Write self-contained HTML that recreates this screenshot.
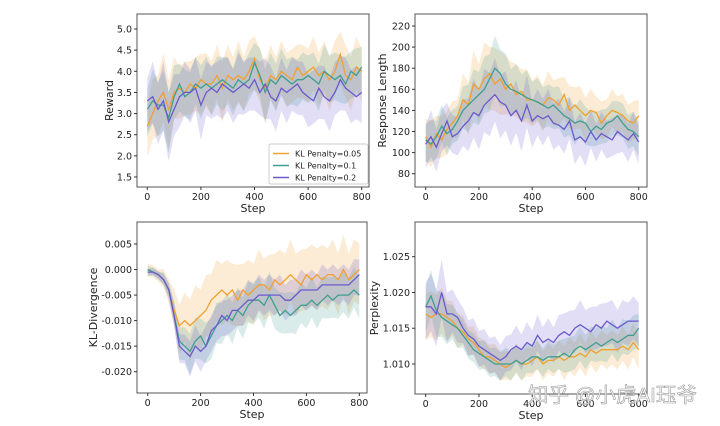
<!DOCTYPE html>
<html><head><meta charset="utf-8"><style>
html,body{margin:0;padding:0;background:#fff;}
svg{display:block;font-family:"DejaVu Sans","Liberation Sans",sans-serif;}
</style></head><body>
<svg id="chart" width="720" height="426" viewBox="0 0 720 426" xmlns="http://www.w3.org/2000/svg"></svg>
<script>
const steps = Array.from({length:41},(_,i)=>i*20);
const seriesNames = ["KL Penalty=0.05","KL Penalty=0.1","KL Penalty=0.2"];
const rewardOrange=[2.7,3.0,3.3,3.5,3.1,3.5,3.6,3.5,3.7,3.6,3.8,3.7,3.7,3.9,3.6,3.9,3.8,3.9,3.8,4.0,4.3,3.8,3.6,3.9,3.8,4.0,3.9,3.8,4.1,3.9,4.0,4.1,3.9,4.0,3.8,4.0,4.4,3.9,3.8,4.1,4.0];
const rewardGreen=[3.1,3.3,3.2,3.2,2.9,3.4,3.7,3.4,3.5,3.7,3.6,3.7,3.6,3.7,3.8,3.7,3.6,3.8,3.7,3.8,4.2,3.9,3.5,3.8,3.7,3.9,3.8,3.7,3.8,3.8,3.9,3.8,3.7,4.0,3.9,3.8,3.9,3.7,4.0,3.9,4.1];
const rewardPurple=[3.3,3.4,3.1,3.3,2.8,3.1,3.4,3.5,3.5,3.6,3.2,3.5,3.6,3.5,3.7,3.6,3.5,3.6,3.7,3.6,3.8,3.5,3.7,3.4,3.3,3.6,3.5,3.6,3.7,3.5,3.4,3.3,3.6,3.4,3.3,3.5,3.8,3.6,3.5,3.4,3.5];
const rewardSpread=[0.7,0.8,0.8,0.9,0.9,0.8,0.7,0.7,0.7,0.7,0.8,0.7,0.7,0.7,0.8,0.7,0.7,0.8,0.7,0.7,0.7,0.7,0.8,0.7,0.7,0.7,0.7,0.7,0.7,0.7,0.7,0.7,0.7,0.7,0.7,0.7,0.7,0.7,0.7,0.7,0.7];
const respOrange=[115,105,118,112,122,128,135,150,145,165,160,170,175,165,170,160,165,155,158,150,150,148,145,152,150,145,155,140,145,140,135,140,138,128,135,140,138,135,130,128,135];
const respGreen=[112,108,115,125,118,122,130,140,145,150,155,160,170,180,175,165,160,158,155,152,150,148,145,142,145,140,135,132,128,130,128,120,125,122,128,130,135,128,122,120,115];
const respPurple=[108,115,105,118,130,115,118,125,130,138,135,145,150,155,148,145,135,140,130,145,130,135,132,135,128,126,122,130,112,115,110,120,112,118,115,112,120,116,112,118,110];
const respSpread=[20,22,20,20,20,18,18,22,25,28,28,30,30,30,30,28,25,25,25,25,22,22,22,22,22,22,20,20,20,20,20,18,18,18,18,18,18,18,18,18,18];
const klOrange=[0,-0.5,-1,-2,-4,-8,-11,-10,-11,-10,-9,-8,-6,-5,-4,-5,-4,-6,-4,-5,-4,-3,-3,-4,-2,-3,-2,-1,-2,-3,-1,-2,-1,-2,-1,-1,-2,0,-2,-1,0];
const klGreen=[0,-0.5,-1,-2,-4,-9,-14,-15,-16,-14,-13,-15,-13,-11,-10,-9,-10,-8,-9,-7,-6,-6,-7,-5,-7,-9,-8,-9,-8,-7,-7,-6,-7,-6,-5,-6,-5,-5,-5,-4,-5];
const klPurple=[-0.5,-0.5,-1,-2,-4,-9,-15,-16,-17,-15,-16,-15,-12,-11,-9,-10,-8,-8,-7,-6,-6,-5,-5,-5,-5,-5,-6,-6,-5,-4,-4,-4,-4,-3,-3,-3,-3,-3,-3,-2,-1];
const klSpread=[1,1,1,1.5,2,3,4,4,5,5,5,5,5,5,5,5,5,5,5,5,5,5,5,5,5,5,5,5,5,5,5,5,5,5,5,5,5,5,5,5,5];
const pplOrange=[17,16.5,17,17,16.5,16,15,14.5,13.5,13,12,11,11,10.5,10,9.5,10,10.5,10,10,10.5,11,10,10.5,10.5,11,10.5,11,11,11.5,11,12,11.5,12,12,12,12,12.5,12,13,12];
const pplGreen=[18,19.5,17.5,16.5,16,15.5,15,14,13,12,11.5,11,10.5,10,10,10,10,10.5,10,10.5,11,11,10.5,11,11,11,11.5,11,12,12.5,12,12.5,13,12.5,13,13.5,13,13.5,14,14,15];
const pplPurple=[18,18,17,20,17,17,16.5,15,14,13.5,12.5,12,11.5,11,10.5,11,12,12.5,12,13,12.5,14,13,13.5,13,14,14.5,14,15,15.5,15,14.5,15.5,15,16,15.5,15,15.5,16,16,16];
const pplSpread=[4,4,4,4,3.5,3,3,2.5,2.5,2.5,2.5,2.5,2.5,2.5,2.5,2.5,2.5,2.5,2.5,2.5,2.5,2.5,2.5,2.5,2.5,2.5,3,3,3,3,3,3,3,3,3,3,3,3,3,3,3];
const xTicks=[0,200,400,600,800];
const rewardTicks=[1.5,2.0,2.5,3.0,3.5,4.0,4.5,5.0];
const respTicks=[80,100,120,140,160,180,200,220];
const klTicks=[-0.020,-0.015,-0.010,-0.005,0.000,0.005];
const pplTicks=[1.010,1.015,1.020,1.025];
const colors=["#f0a030","#3f9f8f","#6a5acd"];
const NS="http://www.w3.org/2000/svg";
const svg=document.getElementById('chart');
function mk(tag,attrs,parent){const e=document.createElementNS(NS,tag);for(const k in attrs)e.setAttribute(k,attrs[k]);(parent||svg).appendChild(e);return e;}

function panel(name,box,xmap,ymap,series,spread,mult,scale,offset,ticks,fmt,ylabel){
  const g=mk('g',{});
  
  
  const X=s=>xmap[0]+(s-0)/800*(xmap[1]-xmap[0]);
  const Y=v=>ymap[0][1]+(v-ymap[0][0])/(ymap[1][0]-ymap[0][0])*(ymap[1][1]-ymap[0][1]);
  const clip='c'+name;
  const cp=mk('clipPath',{id:clip},g);mk('rect',{x:box[0],y:box[1],width:box[2]-box[0],height:box[3]-box[1]},cp);
  series.forEach((vals,si)=>{
    let up='',lo='';
    vals.forEach((v,i)=>{const vv=offset+v*scale;const d=spread[i]*mult[si]*scale*(i%2?1.15:0.85);
      up+=(i?'L':'M')+X(steps[i]).toFixed(1)+','+Y(vv+d).toFixed(1);});
    for(let i=vals.length-1;i>=0;i--){const vv=offset+vals[i]*scale;const d=spread[i]*mult[si]*scale*(i%2?0.85:1.15);lo+='L'+X(steps[i]).toFixed(1)+','+Y(vv-d).toFixed(1);}
    const b=mk('path',{d:up+lo+'Z',fill:colors[si],'fill-opacity':0.2,stroke:'none','clip-path':'url(#'+clip+')'},g);
    
    
  });
  series.forEach((vals,si)=>{
    const d=vals.map((v,i)=>(i?'L':'M')+X(steps[i]).toFixed(1)+','+Y(offset+v*scale).toFixed(1)).join('');
    const l=mk('path',{d:d,fill:'none',stroke:colors[si],'stroke-width':1.3,'clip-path':'url(#'+clip+')'},g);
    
    
  });
  mk('rect',{x:box[0],y:box[1],width:box[2]-box[0],height:box[3]-box[1],fill:'none',stroke:'#555','stroke-width':1},g);
  xTicks.forEach(t=>{const x=X(t);mk('line',{x1:x,x2:x,y1:box[3],y2:box[3]+3,stroke:'#333'},g);
    const tx=mk('text',{x:x,y:box[3]+13,'font-size':9.5,'text-anchor':'middle',fill:'#222'},g);tx.textContent=t;
    });
  ticks.forEach(t=>{const y=Y(t);mk('line',{x1:box[0]-3,x2:box[0],y1:y,y2:y,stroke:'#333'},g);
    const tx=mk('text',{x:box[0]-5,y:y+3.5,'font-size':9.5,'text-anchor':'end',fill:'#222'},g);tx.textContent=fmt(t);
    });
  const xl=mk('text',{x:(box[0]+box[2])/2,y:box[3]+25,'font-size':11,'text-anchor':'middle',fill:'#222'},g);xl.textContent='Step';
  
  const yl=mk('text',{x:0,y:0,'font-size':11,'text-anchor':'middle',fill:'#222',transform:'translate('+ylabel[1]+','+((box[1]+box[3])/2)+') rotate(-90)'},g);yl.textContent=ylabel[0];
  
}
panel('reward',[137,14,369,187],[147.3,361.7],[[5.0,29],[1.5,177]],[rewardOrange,rewardGreen,rewardPurple],rewardSpread,[0.9,0.8,0.9],1,0,rewardTicks,t=>t.toFixed(1),['Reward',113]);
panel('response-length',[415,14,647,187],[425.7,638.7],[[220,26],[80,173.7]],[respOrange,respGreen,respPurple],respSpread,[1,0.9,1],1,0,respTicks,t=>t,['Response Length',386]);
panel('kl-divergence',[137,222,367,393],[147.7,359.3],[[0.005,244],[-0.020,371.7]],[klOrange,klGreen,klPurple],klSpread,[1.2,0.8,0.7],0.001,0,klTicks,t=>t.toFixed(3),['KL-Divergence',97]);
panel('perplexity',[415,222,647,394],[425.7,638.7],[[1.025,256.7],[1.010,364]],[pplOrange,pplGreen,pplPurple],pplSpread,[0.8,0.8,1],0.001,1,pplTicks,t=>t.toFixed(3),['Perplexity',378]);

const lg=mk('g',{});


mk('rect',{x:269,y:144,width:99,height:40,rx:2,fill:'#fff','fill-opacity':0.85,stroke:'#ccc'},lg);
seriesNames.forEach((n,i)=>{const y=153.5+i*12;
  mk('line',{x1:273,x2:289,y1:y,y2:y,stroke:colors[i],'stroke-width':1.5},lg);
  const t=mk('text',{x:295,y:y+3,'font-size':8,fill:'#222'},lg);t.textContent=n;
  });

const wm=mk('text',{x:528,y:402,'font-size':20.5,fill:'#fff','fill-opacity':0.8,stroke:'#999','stroke-width':0.6,'font-family':'"Liberation Sans","Noto Sans CJK SC",sans-serif'});
wm.textContent='知乎 @小虎AI珏爷';


</script>
</body></html>
